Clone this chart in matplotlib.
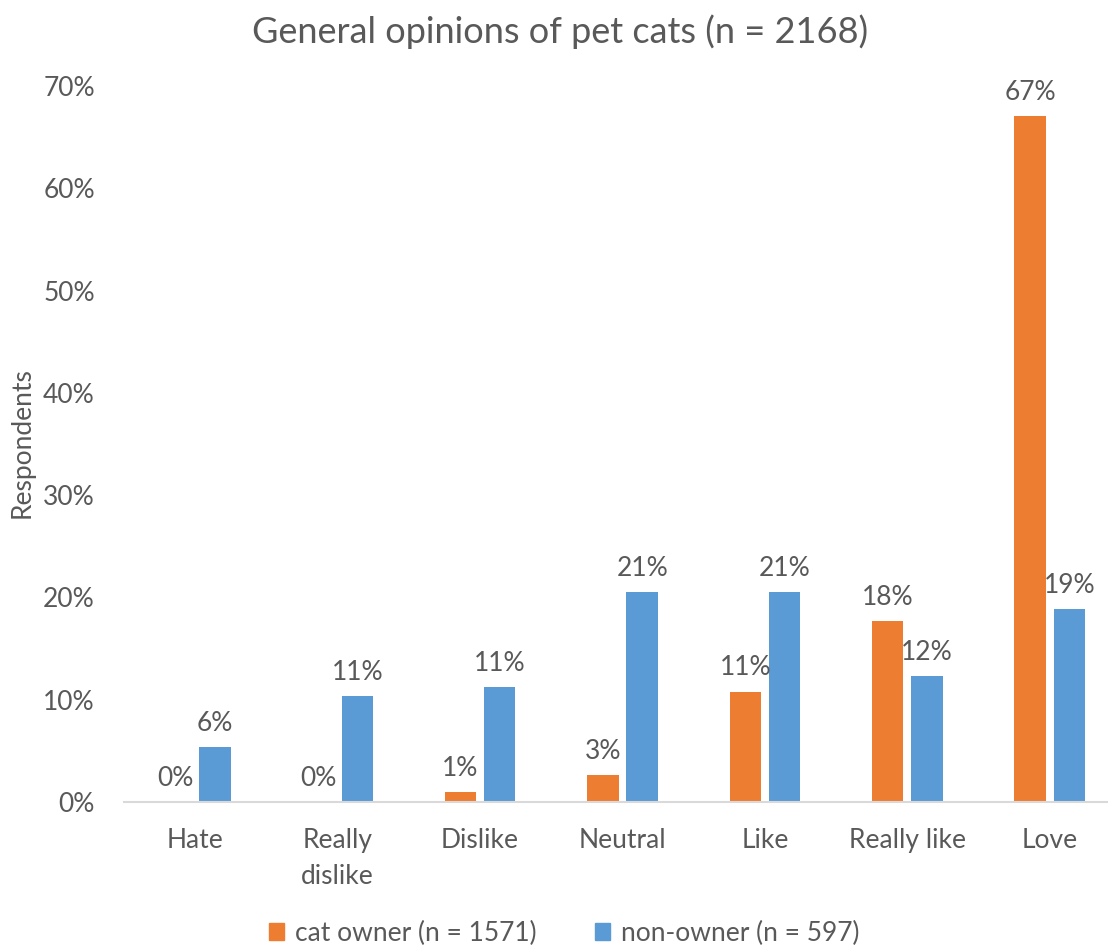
import numpy as np
import matplotlib.pyplot as plt
import matplotlib.patches as mpatches

categories = ['Hate', 'Really\ndislike', 'Dislike', 'Neutral', 'Like', 'Really like', 'Love']
owner = [0.0, 0.0, 1.0, 2.6, 10.8, 17.7, 67.1]
non_owner = [5.4, 10.4, 11.2, 20.5, 20.5, 12.3, 18.9]
owner_labels = ['0%', '0%', '1%', '3%', '11%', '18%', '67%']
non_owner_labels = ['6%', '11%', '11%', '21%', '21%', '12%', '19%']

orange = '#ED7D31'
blue = '#5B9BD5'
grey = '#595959'

plt.rcParams['font.family'] = ['Lato', 'DejaVu Sans']

W, H = 1108, 946
fig = plt.figure(figsize=(W / 100, H / 100), dpi=100)
ax = fig.add_axes([124 / W, 144 / H, (1121 - 124) / W, (860 - 144) / H])

x = np.arange(len(categories))
bw = 0.22
off = 0.138
b1 = ax.bar(x - off, owner, bw, color=orange)
b2 = ax.bar(x + off, non_owner, bw, color=blue)

# подписи над столбиками
for bars, labels in ((b1, owner_labels), (b2, non_owner_labels)):
    for rect, lab in zip(bars, labels):
        ax.annotate(lab, xy=(rect.get_x() + rect.get_width() / 2, rect.get_height()),
                    xytext=(0, 8), textcoords='offset points',
                    ha='center', va='bottom', fontsize=19, color=grey)

ax.set_xlim(-0.5, 6.5)
ax.set_ylim(0, 70)
ax.set_yticks(range(0, 71, 10))
ax.set_yticklabels([f'{v}%' for v in range(0, 71, 10)], fontsize=19, color=grey)
ax.set_xticks(x)
ax.set_xticklabels(categories, fontsize=19, color=grey, linespacing=1.55, va='top')
ax.tick_params(axis='both', length=0)
ax.tick_params(axis='x', pad=19)
ax.tick_params(axis='y', pad=21)

for s in ['top', 'right', 'left']:
    ax.spines[s].set_visible(False)
ax.spines['bottom'].set_color('#D9D9D9')
ax.spines['bottom'].set_linewidth(1.5)

fig.text(22 / W, 1 - 443 / H, 'Respondents', rotation=90, ha='center', va='center',
         fontsize=19, color=grey)
fig.text(560 / W, 1 - 32 / H, 'General opinions of pet cats (n = 2168)', ha='center', va='center',
         fontsize=26, color=grey)

p1 = mpatches.Patch(color=orange, label='cat owner (n = 1571)')
p2 = mpatches.Patch(color=blue, label='non-owner (n = 597)')
leg = fig.legend(handles=[p1, p2], loc='center', bbox_to_anchor=(564 / W, 1 - 933 / H),
                 ncol=2, frameon=False, fontsize=19, handlelength=0.6, handleheight=0.6,
                 handletextpad=0.4, columnspacing=2.2)
for t in leg.get_texts():
    t.set_color(grey)

fig.savefig('out.png', dpi=100)
